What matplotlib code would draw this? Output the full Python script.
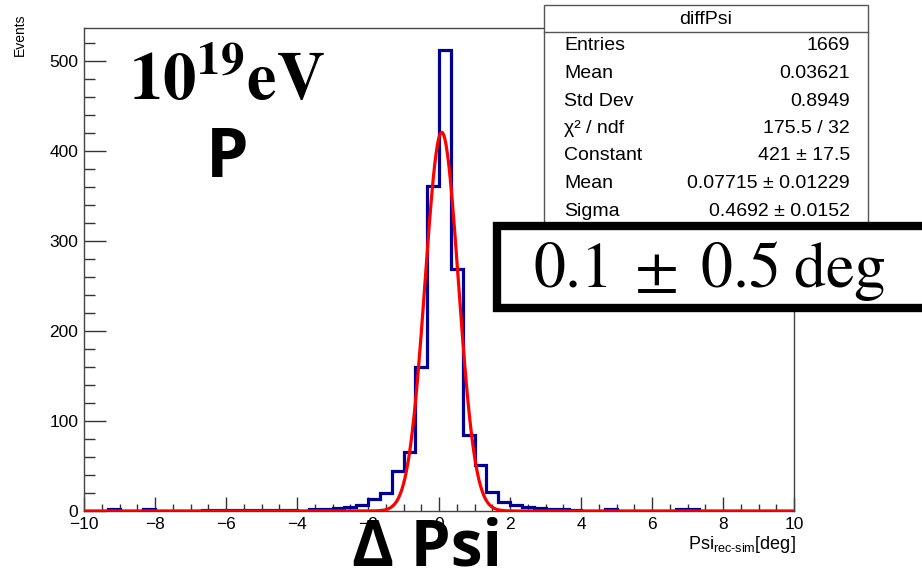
import numpy as np
import matplotlib
matplotlib.use("Agg")
import matplotlib.pyplot as plt
from matplotlib.patches import Rectangle
from matplotlib.lines import Line2D

# ==========================
# Data
# ==========================

X_MIN, X_MAX, N_BINS = -10.0, 10.0, 60

counts = [
    0, 0, 2, 0, 0, 2, 0, 0, 0, 0,
    1, 1, 1, 1, 1, 1, 1, 1, 0, 2,
    2, 3, 4, 7, 13, 20, 44, 66, 160, 361,
    513, 269, 84, 51, 21, 10, 7, 4, 3, 2,
    2, 1, 0, 0, 2, 0, 0, 0, 0, 0,
    2, 2, 0, 0, 0, 0, 0, 0, 0, 0,
]

fit_constant = 421.0
fit_mean = 0.07715
fit_sigma = 0.4692

stats_title = "diffPsi"
stats_names = ["Entries", "Mean", "Std Dev", "χ² / ndf", "Constant", "Mean", "Sigma"]
stats_values = ["1669", "0.03621", "0.8949", "175.5 / 32", "421 ± 17.5",
                "0.07715 ± 0.01229", "0.4692 ± 0.0152"]

x_ticks = [-10, -8, -6, -4, -2, 0, 2, 4, 6, 8, 10]
y_ticks = [0, 100, 200, 300, 400, 500]

# ==========================
# Figure
# ==========================

plt.rcParams["font.family"] = ["Liberation Sans", "DejaVu Sans"]
plt.rcParams["mathtext.fontset"] = "custom"
plt.rcParams["mathtext.rm"] = "Liberation Sans"
plt.rcParams["mathtext.it"] = "Liberation Sans:italic"
plt.rcParams["mathtext.bf"] = "Liberation Sans:bold"

W, H = 922, 576
fig = plt.figure(figsize=(W / 100, H / 100), dpi=100)


def fx(x):
    return x / W


def fy(y):
    return 1 - y / H


ax = fig.add_axes([fx(84), fy(511), fx(794) - fx(84), fy(28) - fy(511)])

edges = np.linspace(X_MIN, X_MAX, N_BINS + 1)
ax.stairs(counts, edges, color="#000099", linewidth=2.3, baseline=0, zorder=2)

# fitted gaussian from the stats box parameters
xf = np.linspace(X_MIN, X_MAX, 1001)
yf = fit_constant * np.exp(-0.5 * ((xf - fit_mean) / fit_sigma) ** 2)
ax.plot(xf, yf, color="#ff0000", linewidth=2.3, zorder=3)

ax.set_xlim(X_MIN, X_MAX)
ax.set_ylim(0, 537)

ax.set_xticks(x_ticks)
ax.set_xticks(np.arange(-10, 10.01, 0.5), minor=True)
ax.set_yticks(y_ticks)
ax.set_yticks(np.arange(0, 537, 20), minor=True)

ax.tick_params(axis="x", which="major", direction="in", length=10, width=1,
               labelsize=12.5, pad=4, color="#333333")
ax.tick_params(axis="x", which="minor", direction="in", length=5.3, width=1,
               color="#333333")
ax.tick_params(axis="y", which="major", direction="in", length=15.5, width=1,
               labelsize=12.5, pad=4, color="#333333")
ax.tick_params(axis="y", which="minor", direction="in", length=7.8, width=1,
               color="#333333")

for sp in ax.spines.values():
    sp.set_color("#444444")
    sp.set_linewidth(1.0)

# axis titles
fig.text(fx(20), fy(14), "Events", rotation=90, ha="center", va="top", fontsize=10)
fig.text(fx(796), fy(549), r"Psi$_{\mathregular{rec‐sim}}$[deg]",
         ha="right", va="baseline", fontsize=13)

# ==========================
# Stats box
# ==========================

fig.patches.append(Rectangle((fx(544), fy(232)), fx(868) - fx(544), fy(5) - fy(232),
                             transform=fig.transFigure, facecolor="white",
                             edgecolor="#555555", linewidth=1.0, zorder=5))
fig.lines.append(Line2D([fx(544), fx(868)], [fy(32), fy(32)],
                        transform=fig.transFigure, color="#555555",
                        linewidth=1.0, zorder=6))
fig.text(fx(706), fy(19), stats_title, ha="center", va="center",
         fontsize=14, zorder=7)

for k, (name, val) in enumerate(zip(stats_names, stats_values)):
    yrow = 46 + k * 27.5
    fig.text(fx(564), fy(yrow), name, ha="left", va="center",
             fontsize=14, zorder=7)
    fig.text(fx(850), fy(yrow), val, ha="right", va="center",
             fontsize=14, zorder=7)

# ==========================
# Annotations
# ==========================

fig.patches.append(Rectangle((fx(497), fy(308)), fx(930) - fx(497), fy(226) - fy(308),
                             transform=fig.transFigure, facecolor="white",
                             edgecolor="black", linewidth=6, zorder=8))
fig.text(fx(709), fy(287), r"$0.1\;\pm\;0.5\;\mathrm{deg}$", ha="center",
         va="baseline", fontsize=46, math_fontfamily="stix", zorder=9)

fig.text(fx(227), fy(100), r"$\mathbf{10^{19}eV}$", ha="center", va="baseline",
         fontsize=48, math_fontfamily="stix", zorder=9)
fig.text(fx(227), fy(177), "P", ha="center", va="baseline", fontsize=49,
         fontweight="bold", family=["Open Sans", "DejaVu Sans"], zorder=9)
fig.text(fx(427), fy(565), "Δ Psi", ha="center", va="baseline", fontsize=46,
         fontweight="bold", family=["Open Sans", "DejaVu Sans"], zorder=9)

fig.savefig("out.png", dpi=100)
